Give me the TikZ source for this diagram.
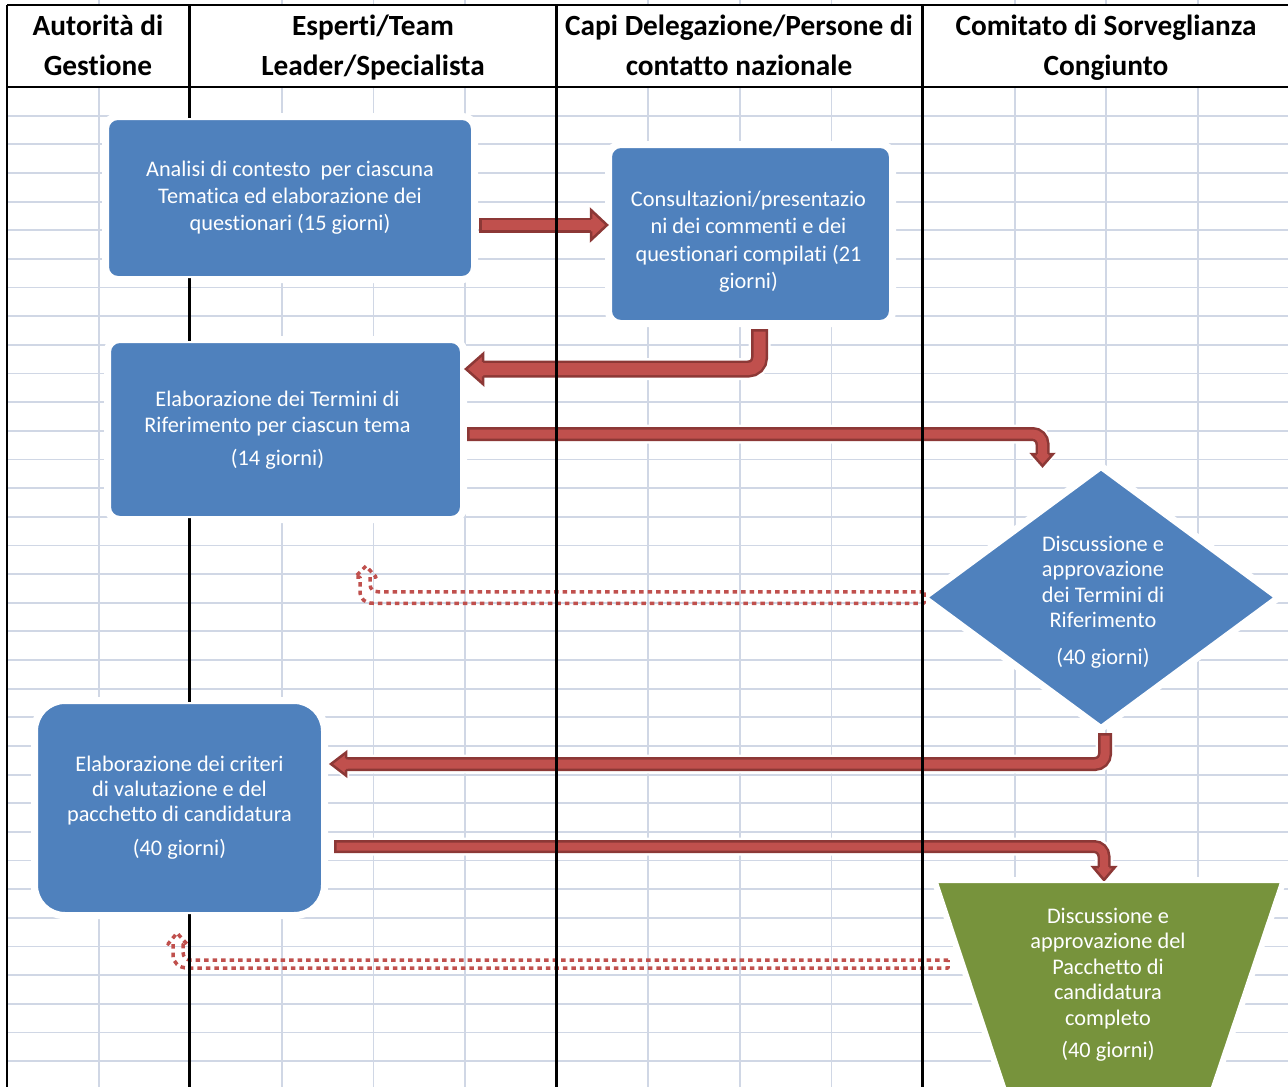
\documentclass[tikz,border=0pt]{standalone}
\usepackage{fontspec}
\setmainfont{Carlito}[Ligatures={NoCommon}]
\usetikzlibrary{shapes.geometric,calc}
\definecolor{boxblue}{HTML}{4F81BD}
\definecolor{boxgreen}{HTML}{77933C}
\definecolor{arrred}{HTML}{C0504D}
\definecolor{arrdark}{HTML}{8C3836}
\definecolor{gridc}{HTML}{D0D7E5}
\pgfdeclarelayer{grid}
\pgfdeclarelayer{halo}
\pgfdeclarelayer{arrows}
\pgfdeclarelayer{lanes}
\pgfsetlayers{grid,halo,arrows,lanes,main}
\tikzset{
  gridline/.style={draw=gridc, line width=1.8pt},
  lane/.style={draw=black, line width=2.6pt},
  hdr/.style={align=center, inner sep=0pt, font={\fontsize{29.3}{40}\selectfont\bfseries}},
  box/.style={rectangle, fill=boxblue, draw=white, line width=2pt, text=white, align=center, inner sep=0pt},
  boxtext/.style={text=white, align=center, inner sep=0pt},
  dotarrow/.style={draw=arrred, line width=3.5pt, dash pattern=on 4.5pt off 4pt, line join=round},
  pics/ahead/.style args={#1/#2/#3}{code={
    \fill[arrred] ({-#1-2},{-#3+2.5}) -- ({-#1},{-#3+2.5}) -- ({-#1},{-#2}) -- (0,0) -- ({-#1},{#2}) -- ({-#1},{#3-2.5}) -- ({-#1-2},{#3-2.5}) -- cycle;
    \draw[arrdark, line width=2.5pt, line join=miter] ({-#1},{-#3+1.25}) -- ({-#1},{-#2}) -- (0,0) -- ({-#1},{#2}) -- ({-#1},{#3-1.25});
  }},
  pics/ahalo/.style args={#1/#2}{code={
    \draw[white, fill=white, line width=6pt, line join=round] ({-#1},{-#2}) -- (0,0) -- ({-#1},{#2}) -- cycle;
  }},
}
\begin{document}
\begin{tikzpicture}[x=1pt,y=-1pt]
\useasboundingbox (0,0) rectangle (1288,1087);

% ---------- header texts ----------
\node[hdr] (H1) at (98,47) {\strut Autorità di\\\strut Gestione};
\node[hdr] (H2) at (373,47) {\strut Esperti/Team\\\strut Leader/Specialista};
\node[hdr] (H3) at (739,47) {\strut Capi Delegazione/Persone di\\\strut contatto nazionale};
\node[hdr] (H4) at (1106,47) {\strut Comitato di Sorveglianza\\\strut Congiunto};

% ---------- process shapes ----------
\node[box, rounded corners=10pt, minimum width=364pt, minimum height=158pt,
      font={\fontsize{22.3}{27}\selectfont}] (A) at (290,198)
  {Analisi di contesto~ per ciascuna\\Tematica ed elaborazione dei\\questionari (15 giorni)};
\node[box, rounded corners=10pt, minimum width=279pt, minimum height=174pt] (B) at (750.5,234) {};
\node[boxtext, font={\fontsize{22.3}{27.5}\selectfont}] (Bt) at (748.5,241.5)
  {Consultazioni/presentazio\\ni dei commenti e dei\\questionari compilati (21\\giorni)};
\node[box, rounded corners=10pt, minimum width=351pt, minimum height=175pt] (C) at (285.5,429.5) {};
\node[boxtext, font={\fontsize{22.3}{26}\selectfont}] (Ct) at (277.5,430)
  {Elaborazione dei Termini di\\Riferimento per ciascun tema\\[7pt](14 giorni)};
\node[diamond, aspect=1.354, fill=boxblue, draw=white, line width=2pt,
      inner sep=0pt, minimum width=348pt, minimum height=257pt] (D) at (1101,597.5) {};
\node[boxtext, font={\fontsize{22.3}{25.5}\selectfont}] (Dt) at (1103,602)
  {Discussione e\\approvazione\\dei Termini di\\Riferimento\\[11pt](40 giorni)};
\node[box, rounded corners=28pt, minimum width=285pt, minimum height=210pt,
      font={\fontsize{22.3}{25}\selectfont}] (E) at (179.5,808)
  {Elaborazione dei criteri\\di valutazione e del\\pacchetto di candidatura\\[9pt](40 giorni)};
\path[fill=boxgreen, draw=white, line width=2pt]
  (937,882) coordinate (Ftl) -- (1281,882) coordinate (Ftr)
  -- (1209.3,1095) coordinate (Fbr) -- (1007.7,1095) coordinate (Fbl) -- cycle;
\coordinate (Ftop) at (1109,882);
\node[boxtext, font={\fontsize{22.3}{25.5}\selectfont}] (F) at (1108,984.5)
  {Discussione e\\approvazione del\\Pacchetto di\\candidatura\\completo\\[7pt](40 giorni)};

% ---------- connector end points ----------
\coordinate (a1s) at ($(A.east)+(6,27)$);
\coordinate (a1t) at ($(B.west)+(-3,-9)$);
\coordinate (a2s) at ($(B.south)+(9,7)$);
\coordinate (a2t) at ($(C.east)+(4,-60.5)$);
\coordinate (a3s) at ($(C.east)+(5,4.5)$);
\coordinate (a3t) at ($(D.north)+(-58.5,-2)$);
\coordinate (a4s) at ($(D.south)+(4,6)$);
\coordinate (a4t) at ($(E.east)+(8,-44)$);
\coordinate (a5s) at ($(E.east)+(11,38.5)$);
\coordinate (a5t) at ($(Ftop)+(-5,-2)$);
\coordinate (d2r) at (948,964);

% ---------- grid ----------
\begin{pgfonlayer}{grid}
  \fill[white] (0,0) rectangle (1288,1087);
  \foreach \k in {1,...,34} \draw[gridline] (7,{87+28.65*\k}) -- (1288,{87+28.65*\k});
  \foreach \k in {1,3,4,5,7,8,9,11,12,13} {
    \draw[gridline] ({7+91.6*\k},87) -- ({7+91.6*\k},1087);
    \draw[gridline] ({7+91.6*\k},0) -- ({7+91.6*\k},5);
  }
\end{pgfonlayer}

% ---------- halos round the shapes ----------
\begin{pgfonlayer}{halo}
  \draw[white, line width=10pt, rounded corners=10pt] (A.south west) rectangle (A.north east);
  \draw[white, line width=10pt, rounded corners=10pt] (B.south west) rectangle (B.north east);
  \draw[white, line width=10pt, rounded corners=10pt] (C.south west) rectangle (C.north east);
  \draw[white, line width=10pt, rounded corners=28pt] (E.south west) rectangle (E.north east);
  \draw[white, line width=10pt, line join=round] (D.north) -- (D.east) -- (D.south) -- (D.west) -- cycle;
  \draw[white, line width=10pt, line join=round] (Ftl) -- (Ftr) -- (Fbr) -- (Fbl) -- cycle;
\end{pgfonlayer}

% ---------- connectors ----------
\begin{pgfonlayer}{arrows}
  % halos
  \draw[white, line width=20pt] (a1s) -- ($(a1t)+(-16,0)$);
  \pic at (a1t) {ahalo=16/15};
  \draw[white, line width=22pt, rounded corners=11pt] (a2s) -- (a2s |- a2t) -- ($(a2t)+(17,0)$);
  \pic[rotate=180] at (a2t) {ahalo=17/15};
  \draw[white, line width=19pt, rounded corners=10pt] (a3s) -- (a3t |- a3s) -- ($(a3t)+(0,-12)$);
  \pic[rotate=-90] at (a3t) {ahalo=12/10.5};
  \draw[white, line width=19pt, rounded corners=10pt] (a4s) -- (a4s |- a4t) -- ($(a4t)+(15,0)$);
  \pic[rotate=180] at (a4t) {ahalo=15/11.5};
  \draw[white, line width=18pt, rounded corners=10pt] (a5s) -- (a5t |- a5s) -- ($(a5t)+(0,-13)$);
  \pic[rotate=-90] at (a5t) {ahalo=13/11};
  % a1 : A -> B
  \draw[arrdark, line width=15pt] (a1s) -- ($(a1t)+(-16,0)$);
  \draw[arrred, line width=10pt] ($(a1s)+(2.5,0)$) -- ($(a1t)+(-16,0)$);
  \pic at (a1t) {ahead=16/15/7.5};
  % a2 : B -> C
  \draw[arrdark, line width=17pt, rounded corners=11pt] (a2s) -- (a2s |- a2t) -- ($(a2t)+(17,0)$);
  \draw[arrred, line width=12pt, rounded corners=11pt] ($(a2s)+(0,2.5)$) -- (a2s |- a2t) -- ($(a2t)+(17,0)$);
  \pic[rotate=180] at (a2t) {ahead=17/15/8.5};
  % a3 : C -> D
  \draw[arrdark, line width=14pt, rounded corners=10pt] (a3s) -- (a3t |- a3s) -- ($(a3t)+(0,-12)$);
  \draw[arrred, line width=9pt, rounded corners=10pt] ($(a3s)+(2.5,0)$) -- (a3t |- a3s) -- ($(a3t)+(0,-12)$);
  \pic[rotate=-90] at (a3t) {ahead=12/10.5/7};
  % a4 : D -> E
  \draw[arrdark, line width=14pt, rounded corners=10pt] (a4s) -- (a4s |- a4t) -- ($(a4t)+(15,0)$);
  \draw[arrred, line width=9pt, rounded corners=10pt] ($(a4s)+(0,2.5)$) -- (a4s |- a4t) -- ($(a4t)+(15,0)$);
  \pic[rotate=180] at (a4t) {ahead=15/11.5/7};
  % a5 : E -> F
  \draw[arrdark, line width=13pt, rounded corners=10pt] (a5s) -- (a5t |- a5s) -- ($(a5t)+(0,-13)$);
  \draw[arrred, line width=8pt, rounded corners=10pt] ($(a5s)+(2.5,0)$) -- (a5t |- a5s) -- ($(a5t)+(0,-13)$);
  \pic[rotate=-90] at (a5t) {ahead=13/11/6.5};
  % dotted return arrows
  \draw[dotarrow] ($(D.west)+(-2,-5.75)$) -- (378,591.75)
     .. controls (373,591.75) and (370,589) .. (370,584) -- (370,577) -- (376,577)
     -- (366,566) -- (355,577) -- (360,577) -- (360,591)
     .. controls (360,599) and (365,603.25) .. (373,603.25) -- ($(D.west)+(-2,5.75)$) -- cycle;
  \draw[dotarrow] ($(d2r)+(0,-4)$) -- (191,960)
     .. controls (186,960) and (183,957) .. (183,952) -- (183,944) -- (187,944)
     -- (177,933) -- (168,944) -- (173,944) -- (173,955)
     .. controls (173,963) and (179,968) .. (188,968) -- ($(d2r)+(0,4)$) -- cycle;
\end{pgfonlayer}

% ---------- lane lines ----------
\begin{pgfonlayer}{lanes}
  \draw[lane] (7,5) -- (1288,5);
  \draw[lane] (7,87) -- (1288,87);
  \foreach \x in {7,189.5,556.3,922.6} \draw[lane] (\x,5) -- (\x,1087);
\end{pgfonlayer}
\end{tikzpicture}
\end{document}
